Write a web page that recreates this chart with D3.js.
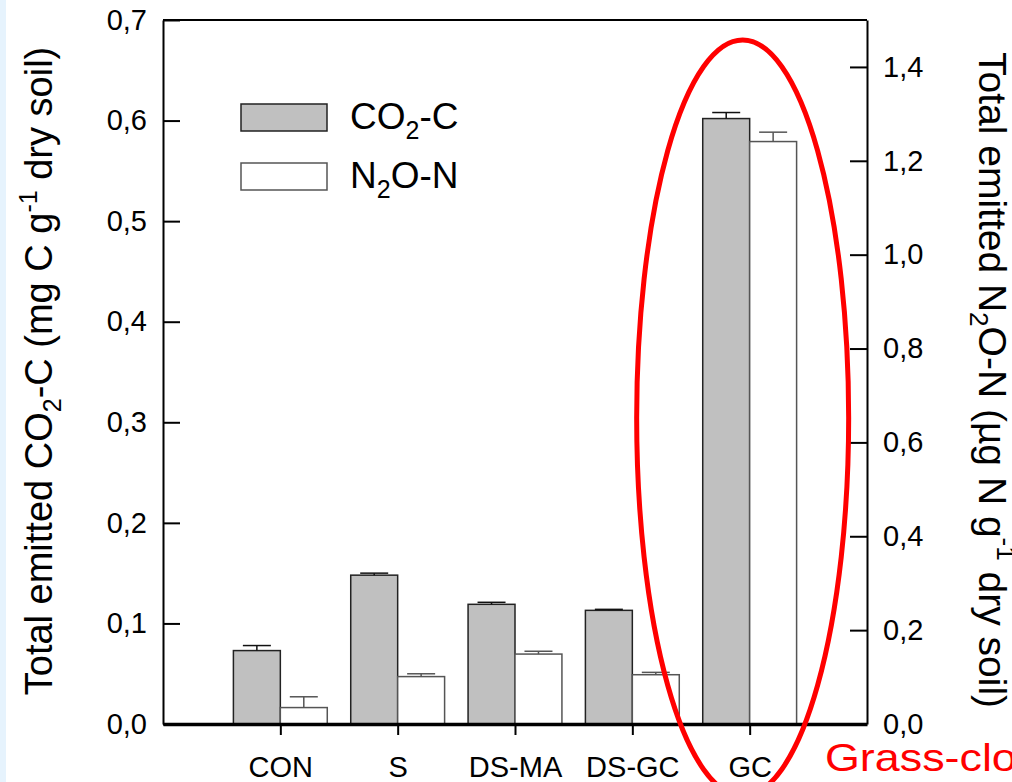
<!DOCTYPE html>
<html>
<head>
<meta charset="utf-8">
<script src="https://cdn.jsdelivr.net/npm/d3@7"></script>
<style>
	body { margin: 0; background: #fff; overflow: hidden; }
	svg { display: block; font-family: "Liberation Sans", Arial, sans-serif; }
</style>
</head>
<body>
<script>
// values
const categories = ["CON", "S", "DS-MA", "DS-GC", "GC"];
const co2 = [0.073, 0.148, 0.119, 0.113, 0.602];
const co2Err = [0.005, 0.002, 0.002, 0.001, 0.006];
const n2o = [0.035, 0.101, 0.149, 0.105, 1.241];
const n2oErr = [0.023, 0.006, 0.006, 0.005, 0.02];
const leftTicks = [0, 0.1, 0.2, 0.3, 0.4, 0.5, 0.6, 0.7];
const rightTicks = [0, 0.2, 0.4, 0.6, 0.8, 1.0, 1.2, 1.4];

const svgWidth = 1012;
const svgHeight = 782;
const margin = { left: 163, right: 145, top: 20, bottom: 58 };

const svg = d3
	.select("body")
	.append("svg")
	.attr("width", svgWidth)
	.attr("height", svgHeight);

// light blue strip on the left edge of the slide
svg.append("rect").attr("width", 6).attr("height", svgHeight).attr("fill", "#e6f3fd");

const x = d3
	.scalePoint()
	.domain(categories)
	.range([margin.left, svgWidth - margin.right])
	.padding(1);

const yLeft = d3.scaleLinear().domain([0, 0.7]).range([svgHeight - margin.bottom, margin.top]);
const yRight = d3.scaleLinear().domain([0, 1.5]).range([svgHeight - margin.bottom, margin.top]);

const barW = x.step() * 0.4;
const capW = 28;
const fmt = (d) => d3.format(".1f")(d).replace(".", ",");

const rows = categories.map((c, i) => ({ c, co2: co2[i], co2Err: co2Err[i], n2o: n2o[i], n2oErr: n2oErr[i] }));

const barsLayer = svg.append("g");

// CO2 bars (left axis)
barsLayer
	.selectAll(".co2")
	.data(rows)
	.join("rect")
	.attr("class", "co2")
	.attr("x", (d) => x(d.c) - barW)
	.attr("y", (d) => yLeft(d.co2))
	.attr("width", barW)
	.attr("height", (d) => yLeft(0) - yLeft(d.co2))
	.attr("fill", "#c0c0c0")
	.attr("stroke", "#222")
	.attr("stroke-width", 1.5);

// N2O bars (right axis)
barsLayer
	.selectAll(".n2o")
	.data(rows)
	.join("rect")
	.attr("class", "n2o")
	.attr("x", (d) => x(d.c))
	.attr("y", (d) => yRight(d.n2o))
	.attr("width", barW)
	.attr("height", (d) => yRight(0) - yRight(d.n2o))
	.attr("fill", "#fff")
	.attr("stroke", "#555")
	.attr("stroke-width", 1.5);

// error bars, upper half only
const errs = [
	...rows.map((d) => ({ cx: x(d.c) - barW / 2, y0: yLeft(d.co2), y1: yLeft(d.co2 + d.co2Err), col: "#111" })),
	...rows.map((d) => ({ cx: x(d.c) + barW / 2, y0: yRight(d.n2o), y1: yRight(d.n2o + d.n2oErr), col: "#555" })),
];
const errG = barsLayer.selectAll(".err").data(errs).join("g").attr("class", "err");
errG
	.append("line")
	.attr("x1", (d) => d.cx)
	.attr("x2", (d) => d.cx)
	.attr("y1", (d) => d.y0)
	.attr("y2", (d) => d.y1)
	.attr("stroke", (d) => d.col)
	.attr("stroke-width", 1.5);
errG
	.append("line")
	.attr("x1", (d) => d.cx - capW / 2)
	.attr("x2", (d) => d.cx + capW / 2)
	.attr("y1", (d) => d.y1)
	.attr("y2", (d) => d.y1)
	.attr("stroke", (d) => d.col)
	.attr("stroke-width", 1.5);

// axes
const axesLayer = svg.append("g");

axesLayer
	.append("line")
	.attr("x1", margin.left)
	.attr("x2", svgWidth - margin.right)
	.attr("y1", margin.top)
	.attr("y2", margin.top)
	.attr("stroke", "#000")
	.attr("stroke-width", 2);

const leftAxis = axesLayer
	.append("g")
	.attr("transform", `translate(${margin.left} 0)`)
	.call(d3.axisLeft(yLeft).tickValues(leftTicks).tickFormat(fmt).tickSizeInner(-17).tickSizeOuter(0).tickPadding(16));

const rightAxis = axesLayer
	.append("g")
	.attr("transform", `translate(${svgWidth - margin.right} 0)`)
	.call(d3.axisRight(yRight).tickValues(rightTicks).tickFormat(fmt).tickSizeInner(-17).tickSizeOuter(0).tickPadding(16));

const bottomAxis = axesLayer
	.append("g")
	.attr("transform", `translate(0 ${svgHeight - margin.bottom})`)
	.call(d3.axisBottom(x).tickSizeInner(11).tickSizeOuter(0).tickPadding(21));

[leftAxis, rightAxis, bottomAxis].forEach((g) => {
	g.selectAll("path.domain").attr("stroke", "#000").attr("stroke-width", 2);
	g.selectAll(".tick line").attr("stroke", "#000").attr("stroke-width", 2);
	g.selectAll(".tick text").attr("fill", "#000").style("font-size", "29px").style("font-family", "'Liberation Sans', Arial, sans-serif");
});
bottomAxis.select("path.domain").attr("stroke-width", 3.5);

// axis titles
const leftTitle = svg
	.append("text")
	.attr("transform", `translate(52 371) rotate(-90)`)
	.attr("text-anchor", "middle")
	.style("font-size", "38px");
leftTitle.append("tspan").text("Total emitted CO");
leftTitle.append("tspan").attr("dy", 9).style("font-size", "25px").text("2");
leftTitle.append("tspan").attr("dy", -9).text("-C (mg C g");
leftTitle.append("tspan").attr("dy", -15).style("font-size", "25px").text("-1");
leftTitle.append("tspan").attr("dy", 15).text(" dry soil)");

const rightTitle = svg
	.append("text")
	.attr("transform", `translate(979 52) rotate(90)`)
	.attr("text-anchor", "start")
	.style("font-size", "39px");
rightTitle.append("tspan").text("Total emitted N");
rightTitle.append("tspan").attr("dy", 9).style("font-size", "26px").text("2");
rightTitle.append("tspan").attr("dy", -9).text("O-N (µg N g");
rightTitle.append("tspan").attr("dy", -18).style("font-size", "26px").text("-1");
rightTitle.append("tspan").attr("dy", 18).text(" dry soil)");

// legend
const legendItems = [
	{ main: "CO", sub: "2", rest: "-C", fill: "#c0c0c0", stroke: "#222" },
	{ main: "N", sub: "2", rest: "O-N", fill: "#fff", stroke: "#555" },
];
const legend = svg.append("g").attr("transform", "translate(241 104)");
legendItems.forEach((item, i) => {
	const row = legend.append("g").attr("transform", `translate(0 ${i * 59})`);
	row
		.append("rect")
		.attr("width", 86)
		.attr("height", 27)
		.attr("fill", item.fill)
		.attr("stroke", item.stroke)
		.attr("stroke-width", 1.5);
	const t = row.append("text").attr("x", 109).attr("y", 25).style("font-size", "37px");
	t.append("tspan").text(item.main);
	t.append("tspan").attr("dy", 10).style("font-size", "25px").text(item.sub);
	t.append("tspan").attr("dy", -10).text(item.rest);
});

// red annotation around the grass-clover treatment
svg
	.append("ellipse")
	.attr("cx", x("GC") - 7)
	.attr("cy", 418)
	.attr("rx", 106)
	.attr("ry", 378)
	.attr("fill", "none")
	.attr("stroke", "#ff0000")
	.attr("stroke-width", 5);

svg
	.append("text")
	.attr("transform", "translate(825 771) scale(1.18 1)")
	.attr("fill", "#ff0000")
	.style("font-size", "38px")
	.text("Grass-clover");
</script>
</body>
</html>
